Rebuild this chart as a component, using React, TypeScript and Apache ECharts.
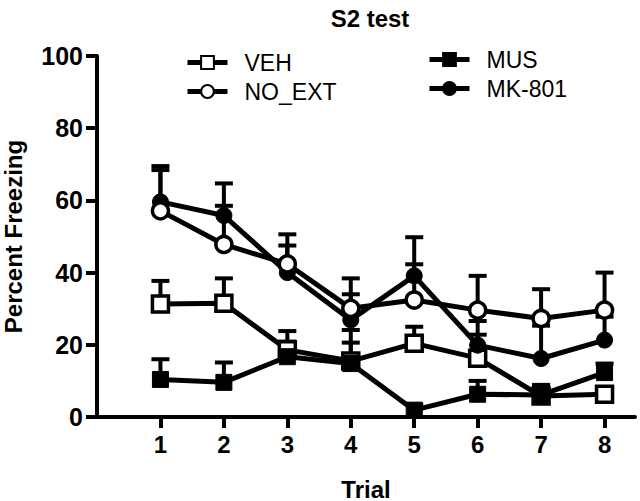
import React, { useEffect, useRef } from "react";
import * as echarts from "echarts";

const trials = [1, 2, 3, 4, 5, 6, 7, 8];
const yTicks = [0, 20, 40, 60, 80, 100];

const vehMean = [31.3, 31.5, 18.6, 15.5, 20.4, 16.3, 5.8, 6.3];
const vehErr = [6.4, 6.9, 5.2, 5.1, 4.6, 6.5, 2.8, 1.5];
const noExtMean = [57.1, 47.8, 42.4, 30.1, 32.4, 29.6, 27.3, 29.6];
const noExtErr = [11.3, 10.7, 8.2, 8.3, 9.9, 9.5, 8.1, 10.4];
const musMean = [10.4, 9.6, 16.7, 14.8, 1.9, 6.3, 6.1, 12.3];
const musErr = [5.6, 5.5, 4.2, 9.3, 1.5, 3.7, 2.8, 2.5];
const mkMean = [59.6, 55.8, 40.0, 26.9, 39.1, 19.9, 16.2, 21.3];
const mkErr = [9.9, 8.9, 7.5, 7.1, 10.7, 6.7, 9.1, 6.5];

const FONT = "'Liberation Sans', Arial, Helvetica, sans-serif";

type Group = {
  name: string;
  mean: number[];
  err: number[];
  symbol: string;
  open: boolean;
  z: number;
};

const groups: Group[] = [
  { name: "VEH", mean: vehMean, err: vehErr, symbol: "rect", open: true, z: 3 },
  { name: "MUS", mean: musMean, err: musErr, symbol: "rect", open: false, z: 4 },
  { name: "MK-801", mean: mkMean, err: mkErr, symbol: "circle", open: false, z: 5 },
  { name: "NO_EXT", mean: noExtMean, err: noExtErr, symbol: "circle", open: true, z: 6 },
];

export default function App() {
  const ref = useRef<HTMLDivElement>(null);
  useEffect(() => {
    if (!ref.current) return;
    const chart = echarts.init(ref.current, null, { renderer: "svg" });

    const errorSeries = groups.map((g) => ({
      type: "custom",
      name: g.name + "_err",
      z: 2,
      silent: true,
      clip: false,
      encode: { x: 0, y: 1 },
      data: trials.map((t, i) => [t, g.mean[i], g.err[i]]),
      renderItem: (params: any, api: any) => {
        const x = api.value(0);
        const y = api.value(1);
        const e = api.value(2);
        const p0 = api.coord([x, y]);
        const p1 = api.coord([x, y + e]);
        return {
          type: "group",
          children: [
            {
              type: "line",
              shape: { x1: p0[0], y1: p0[1], x2: p1[0], y2: p1[1] },
              style: { stroke: "#000", lineWidth: 4 },
            },
            {
              type: "line",
              shape: { x1: p1[0] - 9, y1: p1[1], x2: p1[0] + 9, y2: p1[1] },
              style: { stroke: "#000", lineWidth: 4 },
            },
          ],
        };
      },
    }));

    const lineSeries = groups.map((g) => ({
      type: "line",
      name: g.name,
      z: g.z,
      data: trials.map((t, i) => [t, g.mean[i]]),
      symbol: g.symbol,
      symbolSize: 16,
      showAllSymbol: true,
      lineStyle: { color: "#000", width: 5 },
      itemStyle: g.open
        ? { color: "#fff", borderColor: "#000", borderWidth: 3.5 }
        : { color: "#000", borderColor: "#000", borderWidth: 1 },
      emphasis: { disabled: true },
    }));

    const legendBase = {
      orient: "vertical",
      itemWidth: 40,
      itemHeight: 16,
      itemGap: 6,
      selectedMode: false,
      lineStyle: { width: 5, color: "#000" },
      textStyle: {
        fontSize: 23,
        fontFamily: FONT,
        color: "#000",
        padding: [0, 0, 0, 12],
      },
    };

    chart.setOption({
      animation: false,
      backgroundColor: "#fff",
      title: {
        text: "S2 test",
        left: 365,
        textAlign: "center",
        top: 1,
        textStyle: { fontSize: 24, fontWeight: "bold", fontFamily: FONT, color: "#000" },
      },
      legend: [
        { ...legendBase, data: ["VEH", "NO_EXT"], left: 180, top: 46 },
        { ...legendBase, data: ["MUS", "MK-801"], left: 422, top: 43 },
      ],
      grid: {
        left: 97,
        right: 5,
        top: 56,
        bottom: 84,
        containLabel: false,
        outerBoundsMode: "none",
      },
      xAxis: {
        type: "value",
        min: 0,
        max: 8.48,
        interval: 1,
        name: "Trial",
        nameLocation: "middle",
        nameGap: 60,
        nameTextStyle: {
          fontSize: 24,
          fontWeight: "bold",
          fontFamily: FONT,
          color: "#000",
        },
        axisLine: { show: true, lineStyle: { color: "#000", width: 4 } },
        axisTick: {
          show: true,
          length: 11,
          customValues: trials,
          lineStyle: { color: "#000", width: 4 },
        },
        axisLabel: {
          customValues: trials,
          fontSize: 24,
          fontWeight: "bold",
          fontFamily: FONT,
          color: "#000",
          margin: 15,
        },
        splitLine: { show: false },
      },
      yAxis: {
        type: "value",
        min: 0,
        max: 100,
        interval: 20,
        name: "Percent Freezing",
        nameLocation: "middle",
        nameGap: 72,
        nameTextStyle: { fontSize: 24, fontWeight: "bold", fontFamily: FONT, color: "#000" },
        axisLine: { show: true, lineStyle: { color: "#000", width: 4 } },
        axisTick: {
          show: true,
          length: 11,
          customValues: yTicks,
          lineStyle: { color: "#000", width: 4 },
        },
        axisLabel: {
          customValues: yTicks,
          fontSize: 25,
          fontWeight: "bold",
          fontFamily: FONT,
          color: "#000",
          margin: 14,
        },
        splitLine: { show: false },
      },
      series: [...errorSeries, ...lineSeries],
    });

    return () => chart.dispose();
  }, []);

  return (
    <div
      ref={ref}
      style={{ position: "absolute", left: 0, top: 0, width: 640, height: 501, overflow: "hidden" }}
    />
  );
}
